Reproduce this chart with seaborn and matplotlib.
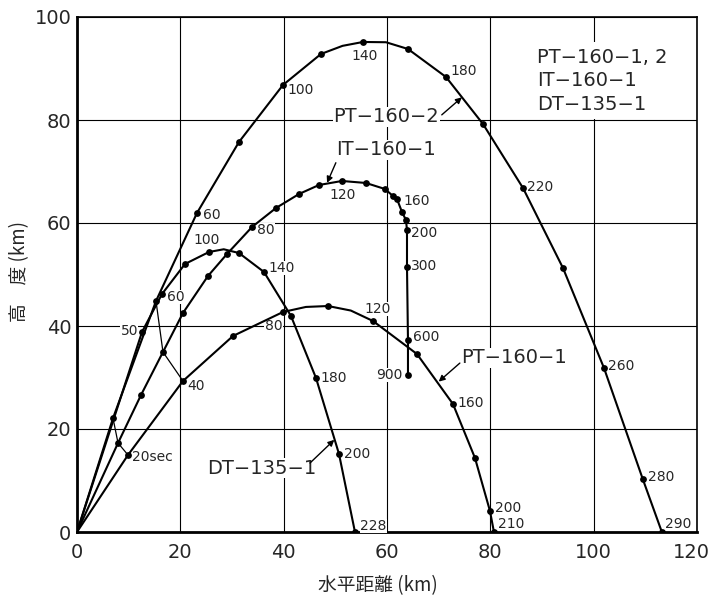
import matplotlib
matplotlib.use("Agg")
import matplotlib.pyplot as plt
from matplotlib.transforms import ScaledTranslation
import numpy as np
import pandas as pd
import seaborn as sns

# ---- trajectory readings: horizontal distance (km), altitude (km), flight time (s)
# points without a marker (origin, apex readings) have time nan
pt2_x = [0, 6.97, 15.29, 23.22, 31.35, 39.87, 47.22, 51.4, 55.35, 59.8, 64.06, 71.42, 78.58, 86.32, 94.06, 102.0, 109.5, 113.2]
pt2_y = [0, 22.1, 44.85, 61.94, 75.73, 86.80, 92.82, 94.4, 95.15, 95.1, 93.79, 88.35, 79.22, 66.80, 51.26, 31.84, 10.29, 0]
pt2_t = [np.nan, 20, 40, 60, 80, 100, 120, np.nan, 140, np.nan, 160, 180, 200, 220, 240, 260, 280, 290]

dt_x = [0, 12.58, 16.45, 20.90, 25.55, 28.4, 31.35, 36.19, 41.42, 46.26, 50.71, 53.80]
dt_y = [0, 38.83, 46.21, 52.04, 54.37, 54.9, 54.17, 50.49, 41.94, 29.90, 15.15, 0]
dt_t = [np.nan, 50, 60, 80, 100, np.nan, 120, 140, 160, 180, 200, 228]

it_x = [0, 7.94, 12.39, 16.64, 20.51, 25.35, 29.03, 33.87, 38.51, 42.97, 46.84, 51.29,
        55.93, 59.61, 61.16, 61.93, 62.90, 63.67, 63.87, 63.87, 64.06, 64.06]
it_y = [0, 17.28, 26.60, 34.95, 42.52, 49.71, 53.98, 59.22, 62.91, 65.63, 67.38, 68.16,
        67.77, 66.60, 65.24, 64.66, 62.14, 60.58, 58.64, 51.46, 37.28, 30.49]
it_t = [np.nan, 20, 30, 40, 50, 60, 70, 80, 90, 100, 110, 120,
        130, 140, 150, 160, 170, 180, 200, 300, 600, 900]

pt1_x = [0, 9.87, 20.51, 30.19, 39.87, 44.3, 48.58, 53.0, 57.29, 65.80, 72.77, 77.03, 79.93, 80.70]
pt1_y = [0, 14.95, 29.32, 38.06, 42.72, 43.7, 43.88, 43.0, 40.97, 34.56, 24.85, 14.37, 4.08, 0]
pt1_t = [np.nan, 20, 40, 60, 80, np.nan, 100, np.nan, 120, 140, 160, 180, 200, 210]

isochrone_secs = [20, 40]

# ---- layout of annotations (offsets in points from the marker)
time_labels = {
    "PT2": {60: ("60", 4.3, -1.4, "left"), 100: ("100", 2.9, -3.6, "left"),
            140: ("140", 1.4, -10, "center"), 180: ("180", 2.9, 4.3, "left"),
            220: ("220", 2.9, 0.7, "left"), 260: ("260", 2.9, 1.4, "left"),
            280: ("280", 3.6, 1.4, "left"), 290: ("290", 2.2, 5.8, "left")},
    "DT": {50: ("50", -2.9, 0.7, "right"), 60: ("60", 3.6, -2.2, "left"),
           100: ("100", -1.4, 8.6, "center"), 140: ("140", 2.9, 2.9, "left"),
           180: ("180", 2.9, 0, "left"), 200: ("200", 3.6, 0, "left"),
           228: ("228", 3.6, 4.3, "left")},
    "IT": {80: ("80", 3.6, -2.2, "left"), 120: ("120", 0.7, -10, "center"),
           160: ("160", 4.3, -1.4, "left"), 200: ("200", 2.9, -2.2, "left"),
           300: ("300", 2.9, 0.7, "left"), 600: ("600", 3.6, 2.2, "left"),
           900: ("900", -3.6, 0, "right")},
    "PT1": {20: ("20sec", 2.9, -1.4, "left"), 40: ("40", 2.9, -3.6, "left"),
            80: ("80", -0.5, -10, "right"), 120: ("120", 3.6, 8.6, "center"),
            160: ("160", 2.9, 0.7, "left"), 200: ("200", 3.6, 2.2, "left"),
            210: ("210", 2.9, 5.8, "left")},
}

# name labels: text, text position, arrow tail, arrow head
name_labels = [
    ("PT\u2212160\u22122", (59.9, 80.6), (70.6, 81.0), (74.5, 84.4)),
    ("IT\u2212160\u22121", (59.9, 74.2), (50.1, 71.7), (48.4, 67.8)),
    ("PT\u2212160\u22121", (84.6, 33.8), (74.1, 32.8), (70.0, 29.2)),
    ("DT\u2212135\u22121", (35.7, 12.4), (45.1, 13.4), (49.8, 17.9)),
]
legend_text = "PT\u2212160\u22121, 2\nIT\u2212160\u22121\nDT\u2212135\u22121"

x_ticks = [0, 20, 40, 60, 80, 100, 120]
y_ticks = [0, 20, 40, 60, 80, 100]

# ---- build frames
frames = {}
for name, xs, ys, ts in [("PT2", pt2_x, pt2_y, pt2_t), ("DT", dt_x, dt_y, dt_t),
                         ("IT", it_x, it_y, it_t), ("PT1", pt1_x, pt1_y, pt1_t)]:
    frames[name] = pd.DataFrame({"x": xs, "y": ys, "t": ts})

sns.set_style("white")
plt.rcParams["font.family"] = ["DejaVu Sans"]

fig = plt.figure(figsize=(7.12, 6.08), dpi=100)
ax = fig.add_axes([77 / 712, 1 - 532 / 608, 620 / 712, 515 / 608])

for name, df in frames.items():
    sns.lineplot(data=df, x="x", y="y", sort=False, estimator=None, color="black",
                 lw=1.5, ax=ax, zorder=4)
    marked = df.dropna(subset=["t"])
    sns.scatterplot(data=marked, x="x", y="y", color="black", s=24, linewidth=0,
                    ax=ax, zorder=5)

# isochrones joining equal flight times
for sec in isochrone_secs:
    pts = pd.concat([frames[n][frames[n]["t"] == sec] for n in ["PT2", "IT", "PT1"]])
    sns.lineplot(data=pts, x="x", y="y", sort=False, estimator=None, color="black",
                 lw=0.9, ax=ax, zorder=4)

# time labels
for name, labs in time_labels.items():
    df = frames[name]
    for sec, (txt, dx, dy, ha) in labs.items():
        row = df[df["t"] == sec].iloc[0]
        ax.annotate(txt, xy=(row["x"], row["y"]), xytext=(dx, dy), textcoords="offset points",
                    ha=ha, va="center", fontsize=10, zorder=3,
                    bbox=dict(fc="white", ec="none", pad=0.3))

# curve name labels with arrows
for txt, pos, tail, head in name_labels:
    ax.text(pos[0], pos[1], txt, ha="center", va="center", fontsize=14, zorder=3,
            bbox=dict(fc="white", ec="none", pad=0.5))
    ax.annotate("", xy=head, xytext=tail,
                arrowprops=dict(arrowstyle="-|>", color="black", lw=1.0,
                                mutation_scale=9, shrinkA=0, shrinkB=0), zorder=4)

ax.text(89.0, 87.6, legend_text, ha="left", va="center", fontsize=14, linespacing=1.3,
        zorder=3, bbox=dict(fc="white", ec="none", pad=4))

ax.set_xlim(0, 120)
ax.set_ylim(0, 100)
ax.set_xticks(x_ticks)
ax.set_yticks(y_ticks)
ax.tick_params(axis="both", length=0, labelsize=14)
ax.tick_params(axis="x", pad=8)
ax.tick_params(axis="y", pad=4)
ax.grid(True, color="black", lw=0.8)
ax.set_axisbelow(True)
for side in ["top", "right"]:
    ax.spines[side].set_linewidth(1.2)
for side in ["left", "bottom"]:
    ax.spines[side].set_linewidth(2.0)
for sp in ax.spines.values():
    sp.set_color("black")

# keep the last x tick label inside the figure
last = ax.get_xticklabels()[-1]
last.set_transform(last.get_transform() + ScaledTranslation(-4 / 72, 0, fig.dpi_scale_trans))

cjk = ["Noto Sans CJK JP", "DejaVu Sans"]
ax.set_xlabel("水平距離 (km)", family=cjk, fontsize=13.5)
ax.set_ylabel("高\u3000度 (km)", family=cjk, fontsize=13.5)
ax.xaxis.set_label_coords(0.485, -0.083)
ax.yaxis.set_label_coords(-0.075, 0.505)

fig.savefig("out.png", dpi=100, facecolor="white")
